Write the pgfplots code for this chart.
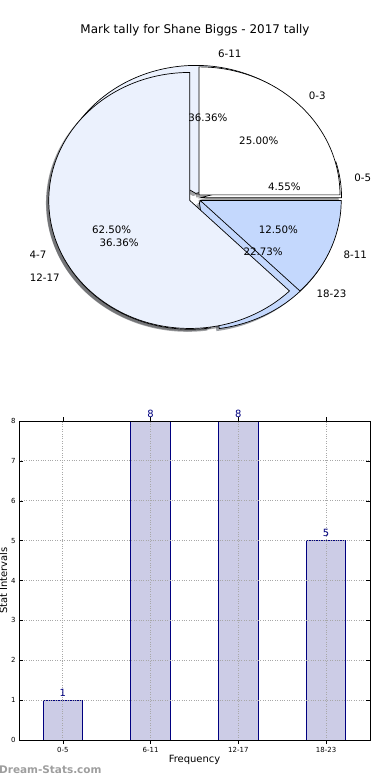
\documentclass[border=0pt]{standalone}
\usepackage{pgfplots}
\pgfplotsset{compat=1.18}
\usepackage{fontspec}
\setmainfont{DejaVu Sans}
\definecolor{pieW}{HTML}{FFFFFF}
\definecolor{pieL}{HTML}{EBF1FD}
\definecolor{pieB}{HTML}{C4D8FD}
\definecolor{barF}{HTML}{CCCCE6}
\definecolor{barE}{HTML}{000080}
\definecolor{grd}{HTML}{A8A8A8}

% pie data: value/label/colour
\def\pieOne{1/0-5/pieW, 8/6-11/pieL, 8/12-17/pieL, 5/18-23/pieB}
\def\pieOneTotal{22}
\def\pieTwo{25/0-3/pieW, 62.5/4-7/pieL, 12.5/8-11/pieB}
\def\pieTwoTotal{100}

\def\explode{0.04}
\newcommand\plabfont{\fontsize{10.3}{12}\selectfont}

\newcommand\piepass[3]{%
  \xdef\cumang{0}%
  \foreach \v/\lab/\col in #1 {%
    \pgfmathsetmacro\frac{\v/#2}%
    \pgfmathsetmacro\sa{\cumang}%
    \pgfmathsetmacro\ea{\cumang+360*\frac}%
    \pgfmathsetmacro\ma{(\sa+\ea)/2}%
    \pgfmathsetmacro\cx{\explode*cos(\ma)}%
    \pgfmathsetmacro\cy{\explode*sin(\ma)}%
    \ifcase#3\relax
      \pgfmathsetmacro\sx{\cx-0.02}\pgfmathsetmacro\sy{\cy-0.02}%
      \fill[fill=\col!30!black, fill opacity=0.5] (axis cs:\sx,\sy) -- ++(\sa:141bp and 128bp) arc[start angle=\sa, end angle=\ea, x radius=141bp, y radius=128bp] -- cycle;
    \or
      \filldraw[fill=\col, draw=black, line width=0.7bp, line join=miter] (axis cs:\cx,\cy) -- ++(\sa:141bp and 128bp) arc[start angle=\sa, end angle=\ea, x radius=141bp, y radius=128bp] -- cycle;
    \or
      \pgfmathsetmacro\lx{\cx+1.1*cos(\ma)}%
      \pgfmathsetmacro\ly{\cy+1.1*sin(\ma)}%
      \pgfmathsetmacro\px{\cx+0.6*cos(\ma)}%
      \pgfmathsetmacro\py{\cy+0.6*sin(\ma)}%
      \pgfmathsetmacro\pct{100*\v/#2}%
      \pgfmathsetmacro\cs{cos(\ma)}%
      \ifdim\cs pt<0pt \def\anc{east}\else\def\anc{west}\fi
      \node[anchor=\anc, inner sep=0pt, font=\plabfont] at (axis cs:\lx,\ly) {\lab};
      \node[inner sep=0pt, font=\plabfont] at (axis cs:\px,\py) {\pgfmathprintnumber[fixed,fixed zerofill,precision=2,assume math mode=true]{\pct}\%};
    \fi
    \xdef\cumang{\ea}%
  }%
}

\begin{document}
\begin{tikzpicture}
\path[use as bounding box] (0,0) rectangle (390bp,780bp);

% ---------- pie chart ----------
\begin{axis}[at={(195bp,581.5bp)}, anchor=center,
  x=141bp, y=128bp, xmin=-1.38, xmax=1.38, ymin=-1.4, ymax=1.4,
  hide axis, clip=false]
\pgfplotsextra{%
  \piepass{\pieOne}{\pieOneTotal}{0}%
  \piepass{\pieTwo}{\pieTwoTotal}{0}%
  \piepass{\pieOne}{\pieOneTotal}{1}%
  \piepass{\pieTwo}{\pieTwoTotal}{1}%
  \piepass{\pieOne}{\pieOneTotal}{2}%
  \piepass{\pieTwo}{\pieTwoTotal}{2}%
}
\end{axis}
\node[font=\fontsize{12}{14}\selectfont] at (195bp,750bp) {Mark tally for Shane Biggs - 2017 tally};

% ---------- bar chart ----------
\begin{axis}[at={(19bp,40bp)}, anchor=south west,
  scale only axis, width=351bp, height=319bp,
  xmin=-0.5, xmax=3.5, ymin=0, ymax=8,
  xtick={0,1,2,3}, xticklabels={0-5,6-11,12-17,18-23},
  ytick={0,1,...,8},
  tick align=inside, major tick length=4bp,
  tick style={black, line width=0.5bp},
  xmajorgrids, ymajorgrids,
  grid style={dotted, grd, line width=0.8bp},
  axis line style={black, line width=0.8bp},
  axis on top,
  ticklabel style={font=\fontsize{7}{8}\selectfont},
  /pgf/number format/assume math mode=true,
  ybar, bar width=0.45, bar shift=0pt, clip=false,
  nodes near coords,
  every node near coord/.append style={font=\fontsize{10}{12}\selectfont, color=barE, anchor=base, yshift=4bp},
  xlabel={Frequency}, ylabel={Stat Intervals},
  every axis x label/.style={at={(rel axis cs:0.5,0)}, anchor=center, yshift=-20.3bp, font=\fontsize{10}{12}\selectfont},
  every axis y label/.style={at={(rel axis cs:0,0.5)}, xshift=-12bp, rotate=90, anchor=base, font=\fontsize{10}{12}\selectfont},
]
\addplot[fill=barF, draw=barE, line width=0.8bp] coordinates {(0,1) (1,8) (2,8) (3,5)};
\end{axis}

\node[anchor=west, inner sep=0pt, text=black!38, font=\fontsize{10.5}{12}\selectfont\bfseries] at (-1bp,10bp) {Dream-Stats.com};
\end{tikzpicture}
\end{document}
